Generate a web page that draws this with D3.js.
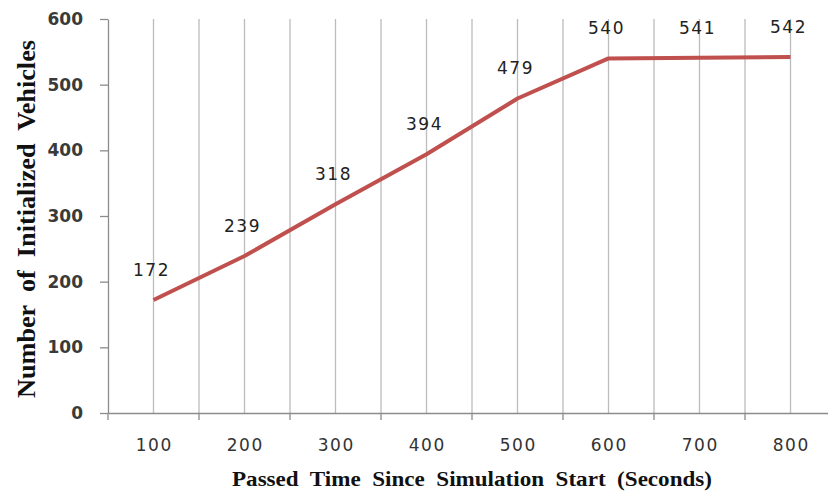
<!DOCTYPE html>
<html><head><meta charset="utf-8">
<script src="https://cdn.jsdelivr.net/npm/d3@7"></script>
<style>html,body{margin:0;padding:0;background:#fff;}svg{display:block;}</style>
</head><body><svg id="c" width="828" height="493"></svg>
<script>
const categories = ["100","200","300","400","500","600","700","800"];
const values = [172,239,318,394,479,540,541,542];
const yTicks = [0,100,200,300,400,500,600];
const xTitle = "Passed  Time  Since  Simulation  Start  (Seconds)";
const yTitle = "Number  of  Initialized  Vehicles";

(function(){
const svg = d3.select("#c");
const mL = 108, bw = 91, mT = 19, mB = 413;
const x = d3.scaleBand().domain(categories).range([mL, mL + bw*categories.length]).paddingInner(0).paddingOuter(0);
const y = d3.scaleLinear().domain([0,600]).range([mB, mT]);
const cx = d => x(d) + x.bandwidth()/2;

// gridlines at centers and boundaries
const gl = svg.append("g");
categories.forEach((c,i) => {
  gl.append("line").attr("x1", cx(c)).attr("x2", cx(c)).attr("y1", mT).attr("y2", mB)
    .attr("stroke", "#bcbcbc").attr("stroke-width", 1.3);
  const b = x(c) + x.bandwidth();
  gl.append("line").attr("x1", b).attr("x2", b).attr("y1", mT).attr("y2", mB)
    .attr("stroke", "#bcbcbc").attr("stroke-width", 1.3);
});

// y axis
const ya = svg.append("g").attr("transform", `translate(${mL},0)`)
  .call(d3.axisLeft(y).tickValues(yTicks).tickSize(8).tickPadding(17).tickSizeOuter(0));
ya.select(".domain").attr("stroke", "#8c8c8c").attr("stroke-width", 1.3);
ya.selectAll(".tick line").attr("stroke", "#8c8c8c").attr("stroke-width", 1.3);
ya.selectAll(".tick text").attr("font-family", "DejaVu Sans").attr("font-weight", "bold")
  .attr("font-size", 17).attr("fill", "#3a3a3a");

// x axis
const xa = svg.append("g").attr("transform", `translate(0,${mB})`)
  .call(d3.axisBottom(x).tickSize(0).tickPadding(26));
xa.select(".domain").attr("stroke", "#8c8c8c").attr("stroke-width", 1.3);
xa.selectAll(".tick text").attr("font-family", "DejaVu Sans")
  .attr("font-size", 17).attr("fill", "#333").attr("letter-spacing", 1.5).attr("dx", 0.75);
const bounds = [x.range()[0]].concat(categories.map(c => x(c) + x.bandwidth()));
xa.selectAll(".bt").data(bounds).enter().append("line")
  .attr("x1", d => d).attr("x2", d => d).attr("y1", 0).attr("y2", 7)
  .attr("stroke", "#8c8c8c").attr("stroke-width", 1.3);

// line
const line = d3.line().x((d,i) => cx(categories[i])).y(d => y(d));
svg.append("path").datum(values).attr("d", line).attr("fill", "none")
  .attr("stroke", "#c0504d").attr("stroke-width", 4).attr("stroke-linejoin", "round");

// data labels
svg.append("g").selectAll("text").data(values).enter().append("text")
  .attr("x", (d,i) => cx(categories[i]) - 2).attr("y", d => y(d) - 24)
  .attr("text-anchor", "middle").attr("font-family", "DejaVu Sans").attr("font-size", 17)
  .attr("fill", "#222").attr("letter-spacing", 1.5).text(d => d);

// axis titles
svg.append("text").attr("x", 472).attr("y", 486).attr("text-anchor", "middle")
  .attr("font-family", "Liberation Serif").attr("font-weight", "bold").attr("font-size", 22)
  .attr("textLength", 480).attr("lengthAdjust", "spacingAndGlyphs")
  .attr("fill", "#111").style("white-space", "pre").text(xTitle);
svg.append("text").attr("transform", "translate(35,219) rotate(-90)").attr("text-anchor", "middle")
  .attr("font-family", "Liberation Serif").attr("font-weight", "bold").attr("font-size", 25)
  .attr("textLength", 358).attr("lengthAdjust", "spacingAndGlyphs")
  .attr("fill", "#111").style("white-space", "pre").text(yTitle);
})();
</script></body></html>
